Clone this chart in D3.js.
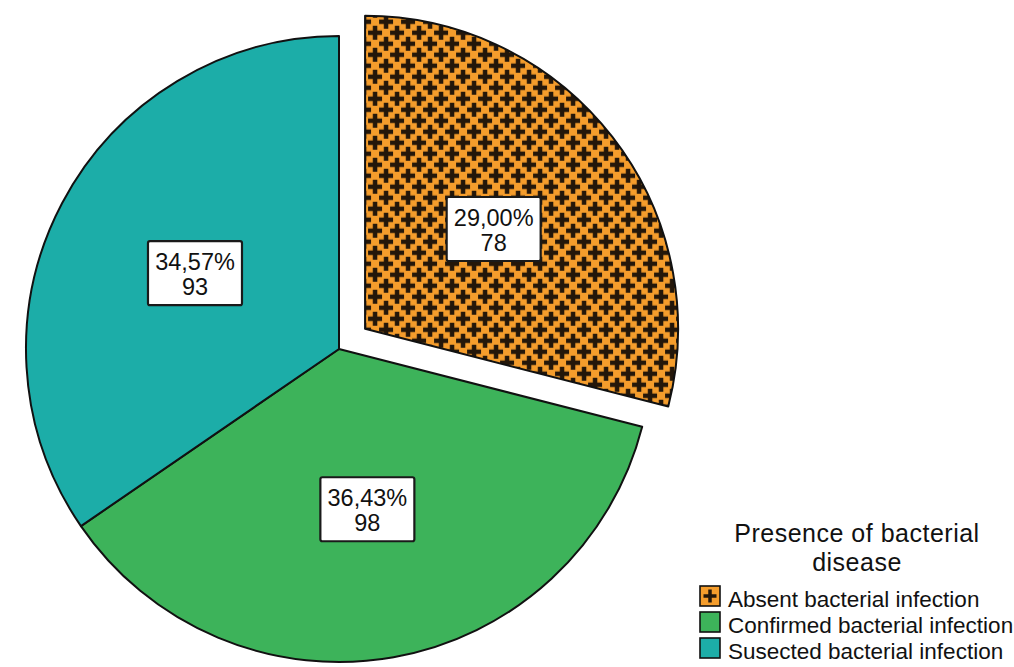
<!DOCTYPE html>
<html>
<head>
<meta charset="utf-8">
<script src="https://cdn.jsdelivr.net/npm/d3@7"></script>
<style>
  html, body { margin: 0; padding: 0; background: #ffffff; }
  svg { display: block; font-family: "Liberation Sans", Arial, sans-serif; }
</style>
</head>
<body>
<svg id="chart" width="1014" height="667"></svg>
<script>
// Presence of bacterial disease — case counts per group
const categories = ["Absent bacterial infection", "Confirmed bacterial infection", "Susected bacterial infection"];
const counts = [78, 98, 93];
const fillColors = ["#f59d2c", "#3db35a", "#1cada8"];
const patterned = [true, false, false];
const explode = [true, false, false];
const legendTitle = ["Presence of bacterial", "disease"];

const svg = d3.select("#chart");
const cx = 339, cy = 349, radius = 313, explodeDist = 33;

// cross-hatch pattern: dark plus signs on orange, staggered grid
const defs = svg.append("defs");
const tile = 22;
const pat = defs.append("pattern")
  .attr("id", "plusFill")
  .attr("patternUnits", "userSpaceOnUse")
  .attr("width", tile).attr("height", tile)
  .attr("patternTransform", "translate(10,12)");
pat.append("rect").attr("width", tile).attr("height", tile).attr("fill", fillColors[0]);
const plusPts = [[0, 0], [tile, 0], [0, tile], [tile, tile], [tile / 2, tile / 2]];
const plusPath = (x, y, a, t) =>
  `M${x - t / 2},${y - a}h${t}v${a - t / 2}h${a - t / 2}v${t}h${-(a - t / 2)}v${a - t / 2}h${-t}v${-(a - t / 2)}h${-(a - t / 2)}v${-t}h${a - t / 2}z`;
pat.selectAll("path").data(plusPts).join("path")
  .attr("d", d => plusPath(d[0], d[1], 7, 4.5))
  .attr("fill", "#24170a");

const total = d3.sum(counts);
const data = categories.map((c, i) => ({ name: c, value: counts[i], i }));

const pie = d3.pie().sort(null).value(d => d.value).startAngle(0).endAngle(2 * Math.PI);
const arcs = pie(data);
const arc = d3.arc().innerRadius(0).outerRadius(radius);
const labelArc = d3.arc().innerRadius(0).outerRadius(radius * 1.04);

const fmtPct = v => d3.format(".2f")(v).replace(".", ",") + "%";

const g = svg.append("g").attr("transform", `translate(${cx},${cy})`);

const slice = g.selectAll("g.slice").data(arcs).join("g")
  .attr("class", "slice")
  .attr("transform", d => {
    if (!explode[d.data.i]) return null;
    const mid = (d.startAngle + d.endAngle) / 2;
    return `translate(${Math.sin(mid) * explodeDist},${-Math.cos(mid) * explodeDist})`;
  });

slice.append("path")
  .attr("d", arc)
  .attr("fill", d => patterned[d.data.i] ? "url(#plusFill)" : fillColors[d.data.i])
  .attr("stroke", "#111")
  .attr("stroke-width", 2)
  .attr("stroke-linejoin", "round");

// value labels: percentage and count in a white box
const boxW = 94, boxH = 64;
const lab = slice.append("g")
  .attr("transform", d => { const [x, y] = labelArc.centroid(d); return `translate(${x},${y})`; });
lab.append("rect")
  .attr("x", -boxW / 2).attr("y", -boxH / 2)
  .attr("width", boxW).attr("height", boxH)
  .attr("rx", 2)
  .attr("fill", "#ffffff")
  .attr("stroke", "#1a1a1a")
  .attr("stroke-width", 2.2);
lab.append("text")
  .attr("text-anchor", "middle")
  .attr("font-size", 23.5)
  .attr("fill", "#111")
  .selectAll("tspan")
  .data(d => [fmtPct(d.data.value / total * 100), d.data.value])
  .join("tspan")
  .attr("x", 0)
  .attr("y", (d, i) => i === 0 ? -3 : 22)
  .text(d => d);

// legend
const legend = svg.append("g");
legend.selectAll("text.title").data(legendTitle).join("text")
  .attr("class", "title")
  .attr("x", 857)
  .attr("y", (d, i) => 541.5 + i * 29)
  .attr("text-anchor", "middle")
  .attr("font-size", 25)
  .attr("letter-spacing", 0.5)
  .attr("fill", "#111")
  .text(d => d);

// single-plus pattern for the legend swatch
const swPat = defs.append("pattern")
  .attr("id", "plusSwatch")
  .attr("patternUnits", "userSpaceOnUse")
  .attr("width", 20).attr("height", 20)
  .attr("x", 700).attr("y", 586);
swPat.append("rect").attr("width", 20).attr("height", 20).attr("fill", fillColors[0]);
swPat.append("path").attr("d", plusPath(10, 10, 6.5, 3.5)).attr("fill", "#24170a");

const item = legend.selectAll("g.item").data(data).join("g")
  .attr("class", "item")
  .attr("transform", (d, i) => `translate(0,${i * 26})`);
item.append("rect")
  .attr("x", 700).attr("y", 586)
  .attr("width", 20).attr("height", 20)
  .attr("fill", d => patterned[d.i] ? "url(#plusSwatch)" : fillColors[d.i])
  .attr("stroke", "#111")
  .attr("stroke-width", 1.6);
item.append("text")
  .attr("x", 728).attr("y", 607)
  .attr("font-size", 22.5)
  .attr("fill", "#111")
  .text(d => d.name);
</script>
</body>
</html>
